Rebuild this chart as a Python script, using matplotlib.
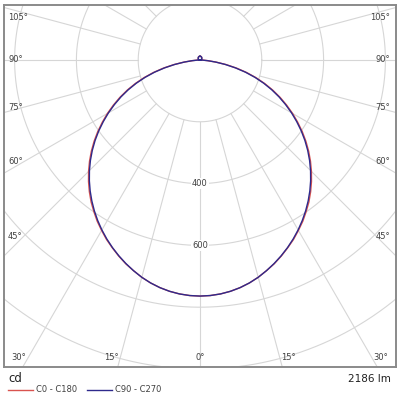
import numpy as np
import matplotlib
matplotlib.use("Agg")
import matplotlib.pyplot as plt
from matplotlib.lines import Line2D

# ---------------- data ----------------
# gamma angle, degrees from nadir
angles = [0, 2.5, 5, 7.5, 10, 12.5, 15, 17.5, 20, 22.5, 25, 27.5, 30, 32.5, 35, 37.5,
          40, 42.5, 45, 47.5, 50, 52.5, 55, 57.5, 60, 62.5, 65, 67.5, 70, 72.5, 75,
          77.5, 80, 82.5, 85, 87.5, 90,
          95, 100, 105, 110, 115, 120, 125, 130, 135, 140, 145, 150, 155, 160, 165,
          170, 175, 180]
c0_c180 = [764, 763, 760, 755, 748, 739, 728, 715, 702, 687, 671, 655, 637, 619, 599,
           579, 557, 534, 510, 485, 459, 432, 404, 375, 346, 316, 286, 255, 223, 190,
           156, 121, 86, 53, 26, 9, 2,
           1, 2, 3, 4, 5, 6, 7, 8, 8, 9, 10, 10, 11, 11, 12, 12, 12, 12]
c90_c270 = [764, 763, 760, 755, 748, 739, 728, 715, 701, 686, 670, 653, 635, 616, 596,
            575, 553, 530, 506, 481, 455, 428, 400, 371, 342, 312, 282, 251, 219, 186,
            152, 117, 83, 51, 25, 8, 2,
            1, 2, 3, 4, 5, 6, 7, 8, 8, 9, 10, 10, 11, 11, 12, 12, 12, 12]
series_names = ["C0 - C180", "C90 - C270"]
series_colors = ["#d9534f", "#2e2a8c"]

ring_values = [200, 400, 600, 800, 1000, 1200]
ring_labels = [400, 600]
radial_angles = list(range(-180, 181, 15))
side_tick_angles = [45, 60, 75, 90, 105]
bottom_tick_angles = [0, 15, 30]
unit_text = "cd"
flux_text = "2186 lm"

# ---------------- figure ----------------
W, H = 400, 396
fig = plt.figure(figsize=(W / 100, H / 100), dpi=100)
fig.patch.set_facecolor("white")

s = 0.309  # pixels per cd
ax = fig.add_axes([4 / W, 29 / H, 392 / W, 362 / H])
ax.set_xlim(-196 / s, 196 / s)
ax.set_ylim(-307 / s, 55 / s)
ax.set_xticks([])
ax.set_yticks([])
for sp in ax.spines.values():
    sp.set_color("#8a8a8a")
    sp.set_linewidth(1.4)

grid_col = "#d6d6d6"
txt_col = "#404040"

t = np.linspace(0, 2 * np.pi, 721)
for r in ring_values:
    ax.plot(r * np.cos(t), r * np.sin(t), color=grid_col, lw=0.8, zorder=1)

rmin, rmax = ring_values[0], 2000
for a in radial_angles:
    ar = np.radians(a)
    ax.plot([rmin * np.sin(ar), rmax * np.sin(ar)],
            [-rmin * np.cos(ar), -rmax * np.cos(ar)],
            color=grid_col, lw=0.8, zorder=1)

# curves (left half mirrored: C180 / C270)
ang = np.array(angles, dtype=float)
for vals, col in zip([c0_c180, c90_c270], series_colors):
    v = np.array(vals, dtype=float)
    th = np.radians(np.concatenate([-ang[::-1], ang[1:]]))
    I = np.concatenate([v[::-1], v[1:]])
    ax.plot(I * np.sin(th), -I * np.cos(th), color=col, lw=1.0, zorder=2,
            solid_joinstyle="round")

# ring labels
for r in ring_labels:
    ax.text(0, -r, str(r), ha="center", va="center", fontsize=6, color=txt_col,
            bbox=dict(boxstyle="square,pad=0.12", fc="white", ec="none"), zorder=3)

# angle labels on the sides
for a in side_tick_angles:
    yoff = 176 / np.tan(np.radians(a))
    y = -yoff / s
    y = min(y, 43 / s)
    ax.text(190 / s, y, f"{a}°", ha="right", va="center", fontsize=6, color=txt_col, zorder=3)
    ax.text(-192 / s, y, f"{a}°", ha="left", va="center", fontsize=6, color=txt_col, zorder=3)

# angle labels at the bottom
for a in bottom_tick_angles:
    y = -297 / s
    if a == 0:
        ax.text(0, y, f"{a}°", ha="center", va="center", fontsize=6, color=txt_col, zorder=3)
    else:
        xo = (297 * np.tan(np.radians(a)) + 2) / s
        ax.text(xo, y, f"{a}°", ha="left", va="center", fontsize=6, color=txt_col, zorder=3)
        ax.text(-xo, y, f"{a}°", ha="right", va="center", fontsize=6, color=txt_col, zorder=3)

# footer
fig.text(8 / W, 1 - 379 / H, unit_text, fontsize=8.5, color="#202020", ha="left", va="center")
fig.text(391 / W, 1 - 379 / H, flux_text, fontsize=7.5, color="#202020", ha="right", va="center")

leg_y = 1 - 390 / H
leg_items = [(8, 36), (87, 115)]
for (x0, xt), name, col in zip(leg_items, series_names, series_colors):
    fig.add_artist(Line2D([x0 / W, (x0 + 25) / W], [leg_y, leg_y], color=col, lw=1.0))
    fig.text(xt / W, leg_y, name, fontsize=6, color=txt_col, ha="left", va="center")

fig.savefig("out.png", dpi=100, facecolor="white")
